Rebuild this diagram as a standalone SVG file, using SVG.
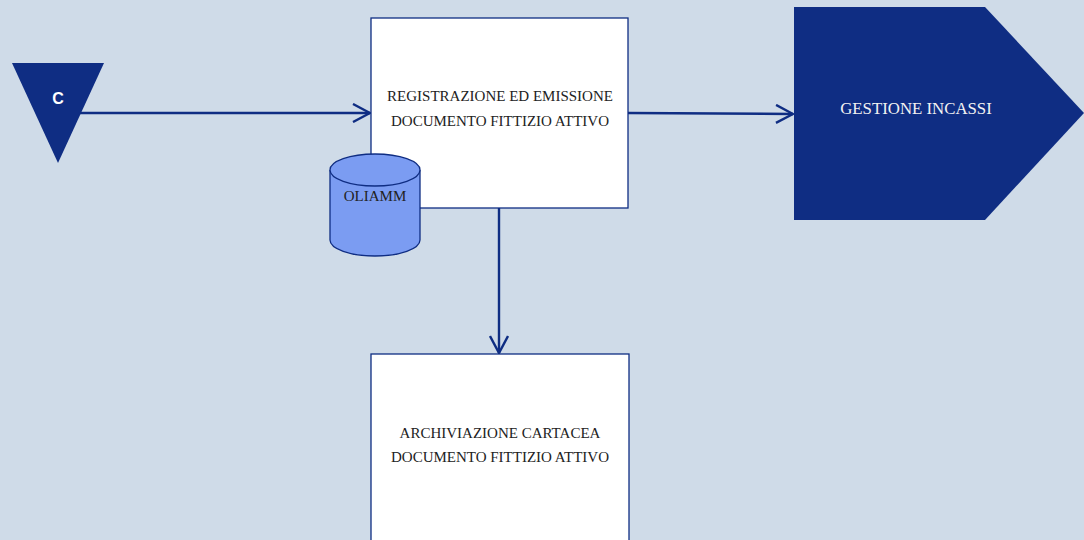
<svg xmlns="http://www.w3.org/2000/svg" width="1084" height="540" viewBox="0 0 1084 540">
<defs>
<style>
.bg{fill:#cfdbe8}
.box{fill:#ffffff;stroke:#0f2d83;stroke-width:1.3}
.dark{fill:#0f2d83}
.conn{stroke:#0f2d83;stroke-width:2.4;fill:none}
.t{font-family:"Liberation Serif","DejaVu Serif",serif;font-size:15px;fill:#222222;text-anchor:middle}
.tw{font-family:"Liberation Serif","DejaVu Serif",serif;font-size:16.8px;fill:#f2f2f2;text-anchor:middle}
.cyl{fill:#7b9cf2;stroke:#0f2d83;stroke-width:1.3}
</style>
<marker id="arr" viewBox="0 0 20 20" refX="19" refY="10" markerWidth="20" markerHeight="20" markerUnits="userSpaceOnUse" orient="auto">
<path d="M2,1 L19,10 L2,19" fill="none" stroke="#0f2d83" stroke-width="2.4"/>
</marker>
</defs>
<rect class="bg" x="0" y="0" width="1084" height="540"/>
<g id="connectors">
<path class="conn" d="M80,113 L370,113" marker-end="url(#arr)"/>
<path class="conn" d="M628,113 L793,114" marker-end="url(#arr)"/>
<path class="conn" d="M499,208 L499,353" marker-end="url(#arr)"/>
</g>
<g id="start">
<polygon class="dark" points="12,63 104,63 58,163"/>
<text x="58" y="104" font-family="Liberation Sans, Arial, sans-serif" font-size="16" font-weight="bold" fill="#ffffff" text-anchor="middle">C</text>
</g>
<g id="registrazione">
<rect class="box" x="371" y="18" width="257" height="190"/>
<text class="t" x="500" y="101">REGISTRAZIONE ED EMISSIONE</text>
<text class="t" x="500" y="126">DOCUMENTO FITTIZIO ATTIVO</text>
</g>
<g id="oliamm">
<path class="cyl" d="M330,170 L330,240 A45,16 0 0 0 420,240 L420,170"/>
<ellipse class="cyl" cx="375" cy="170" rx="45" ry="16"/>
<text class="t" x="375" y="201">OLIAMM</text>
</g>
<g id="gestione">
<polygon class="dark" points="794,7 985,7 1084,113 985,220 794,220"/>
<text class="tw" x="916" y="114">GESTIONE INCASSI</text>
</g>
<g id="archiviazione">
<rect class="box" x="371" y="354" width="258" height="200"/>
<text class="t" x="500" y="438">ARCHIVIAZIONE CARTACEA</text>
<text class="t" x="500" y="462">DOCUMENTO FITTIZIO ATTIVO</text>
</g>
</svg>
